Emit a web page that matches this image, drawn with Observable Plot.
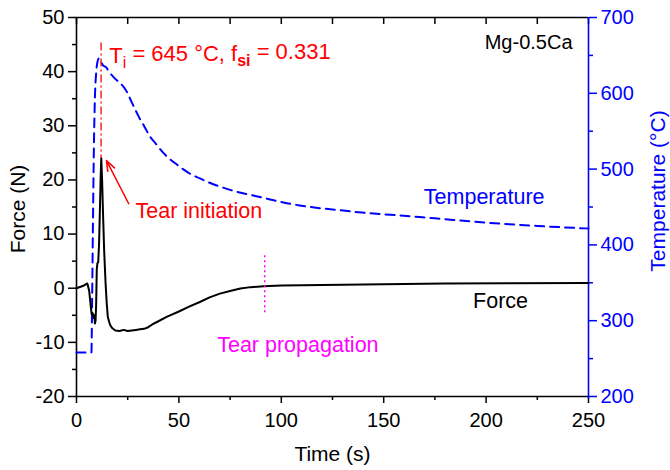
<!DOCTYPE html>
<html>
<head>
<meta charset="utf-8">
<script src="https://cdn.jsdelivr.net/npm/d3@7"></script>
<script src="https://cdn.jsdelivr.net/npm/@observablehq/plot@0.6"></script>
<style>
  body { margin: 0; background: #fff; }
  #chart svg { display: block; }
</style>
</head>
<body>
<div id="chart"></div>
<script>
// Force record (N) versus time (s)
const forceTime = [0, 3, 5.3, 6.2, 7.0, 7.4, 7.9, 8.3, 8.7, 9.0, 9.3, 9.6, 9.9, 10.2, 10.6, 11.0, 11.4, 11.8, 12.1, 12.5, 13.0, 13.5, 14.2, 14.8, 15.3, 16.0, 16.6, 17.5, 19.0, 21, 23, 25, 27, 29, 31, 33, 35, 37, 40, 44, 50, 55, 60.5, 65, 70, 75, 80, 85, 91.5, 100, 110, 130, 150, 180, 210, 250];
const force     = [0, 0.4, 0.87, -0.5, -3.5, -4.8, -4.6, -5.5, -5.0, -6.5, -6.0, -3.0, 3.5, 4.6, 4.8, 8.0, 14.0, 20.5, 24.0, 20.0, 13.2, 7.0, 0.9, -3.0, -5.3, -6.3, -6.9, -7.4, -7.8, -7.9, -7.7, -7.9, -7.8, -7.7, -7.6, -7.5, -7.2, -6.7, -6.1, -5.3, -4.3, -3.4, -2.5, -1.7, -1.0, -0.5, -0.05, 0.2, 0.37, 0.5, 0.55, 0.65, 0.72, 0.85, 0.92, 0.98];

// Thermocouple record (°C) versus time (s)
const tempTime    = [0, 7.3, 7.6, 8.0, 8.5, 9.0, 9.6, 10.2, 10.9, 12.0, 13.3, 14.2, 16, 18.2, 20.6, 22.5, 24.8, 27, 29.7, 31.2, 33, 36.1, 38.6, 40, 44, 48, 52, 56, 60, 65, 70, 77, 85, 93, 101, 109, 117, 126, 142, 157, 175, 202, 225, 250];
const temperature = [258, 258, 320, 420, 530, 595, 627, 641, 646, 641, 636, 635, 628, 621, 615, 610, 601, 588, 573, 565, 557, 542, 534, 529, 517, 508, 500, 493, 488, 482, 477, 471, 466, 461, 456, 452, 449, 446.5, 442, 439, 435, 429, 425, 421.6];

// Axis ticks
const timeTicks = [0, 50, 100, 150, 200, 250];
const timeMinor = [25, 75, 125, 175, 225];
const timeTop = [0, 25, 50, 75, 100, 125, 150, 175, 200, 225, 250];
const forceTicks = [-20, -10, 0, 10, 20, 30, 40, 50];
const forceMinor = [-15, -5, 5, 15, 25, 35, 45];
const tempTicks = [200, 300, 400, 500, 600, 700];
const tempMinor = [250, 350, 450, 550, 650];

// Annotation values
const initiationTime = 12;          // s, force peak
const initiationForce = 24;         // N
const initiationLineTop = 45.3;     // N
const propagationTime = 91.9;       // s
const propagationSpan = [6, -5];    // N
const arrowFrom = [25.5, 15.6];     // [s, N]
const arrowTo = [14.6, 23.6];       // [s, N]

// Temperature axis (200–700 °C) shares the frame with the force axis (−20–50 N)
const tempToForce = (t) => -20 + (t - 200) * 70 / 500;
const forceToTemp = (f) => String(Math.round(200 + (f + 20) * 500 / 70));
const plain = (d) => String(d);   // hyphen-minus, as in the printed figure

const BLUE = "#0000ff", RED = "#ff0000", MAGENTA = "#ff00ff";
const FONT = "'Liberation Sans', Arial, Helvetica, sans-serif";

const forceData = forceTime.map((t, i) => ({t, f: force[i]}));
const tempData = tempTime.map((t, i) => ({t, T: temperature[i]}));

const chart = Plot.plot({
  width: 670,
  height: 470,
  marginLeft: 76,
  marginRight: 82,
  marginTop: 17,
  marginBottom: 74,
  x: {domain: [0, 250]},
  y: {domain: [-20, 50]},
  style: {fontFamily: FONT, fontSize: "20px", color: "black", background: "white"},
  marks: [
    // bottom axis
    Plot.axisX(timeTicks, {anchor: "bottom", tickSize: 7, tickPadding: 9, fontSize: 20, tickFormat: plain, label: null, strokeWidth: 1.5}),
    Plot.axisX(timeMinor, {anchor: "bottom", tickSize: 4, tickFormat: () => "", label: null, strokeWidth: 1.5}),
    // top ticks pointing inward
    Plot.axisX(timeTop, {anchor: "top", tickSize: -6, tickFormat: () => "", label: null, strokeWidth: 1.5}),
    // left force axis
    Plot.axisY(forceTicks, {anchor: "left", tickSize: 8, tickPadding: 4, fontSize: 20, tickFormat: plain, label: null, strokeWidth: 1.5}),
    Plot.axisY(forceMinor, {anchor: "left", tickSize: 4, tickFormat: () => "", label: null, strokeWidth: 1.5}),
    // right temperature axis
    Plot.axisY(tempTicks.map(tempToForce), {anchor: "right", tickSize: 8, tickPadding: 4, fontSize: 20, label: null,
      tickFormat: forceToTemp, color: BLUE, strokeWidth: 1.5}),
    Plot.axisY(tempMinor.map(tempToForce), {anchor: "right", tickSize: 4, tickFormat: () => "", label: null,
      color: BLUE, strokeWidth: 1.5}),
    // frame
    Plot.ruleY([-20], {stroke: "black", strokeWidth: 1.6}),
    Plot.ruleY([50], {stroke: "black", strokeWidth: 1.6}),
    Plot.ruleX([0], {stroke: "black", strokeWidth: 1.6}),
    Plot.ruleX([250], {stroke: BLUE, strokeWidth: 1.6, y1: -20.4, y2: 50}),
    // axis titles
    Plot.text(["Time (s)"], {frameAnchor: "bottom", dy: 58, lineAnchor: "middle", textAnchor: "middle", fontSize: 21, fill: "black"}),
    Plot.text(["Force (N)"], {frameAnchor: "left", dx: -58, dy: 2, rotate: -90, lineAnchor: "middle", textAnchor: "middle", fontSize: 21, fill: "black"}),
    Plot.text(["Temperature (°C)"], {frameAnchor: "right", dx: 70, dy: -16, rotate: -90, lineAnchor: "middle", textAnchor: "middle", fontSize: 21, fill: BLUE}),
    // data
    Plot.line(tempData, {x: "t", y: (d) => tempToForce(d.T), stroke: BLUE, strokeWidth: 2, strokeDasharray: "9,6", curve: "monotone-x"}),
    Plot.line(forceData, {x: "t", y: "f", stroke: "black", strokeWidth: 2}),
    // tear initiation marker
    Plot.ruleX([initiationTime], {y1: initiationLineTop, y2: initiationForce, stroke: RED, strokeWidth: 1.3, strokeDasharray: "8,3,2,3"}),
    Plot.arrow([{x1: arrowFrom[0], y1: arrowFrom[1], x2: arrowTo[0], y2: arrowTo[1]}],
      {x1: "x1", y1: "y1", x2: "x2", y2: "y2", stroke: RED, strokeWidth: 1.5, headLength: 11, headAngle: 40}),
    // tear propagation marker
    Plot.ruleX([propagationTime], {y1: propagationSpan[0], y2: propagationSpan[1], stroke: MAGENTA, strokeWidth: 1.5, strokeDasharray: "2,3"}),
    // labels
    Plot.text(["Ti = 645 °C, fsi = 0.331"], {x: 16, y: 42.9, textAnchor: "start", fontSize: 22, fill: RED}),
    Plot.text(["Mg-0.5Ca"], {x: 242.2, y: 45.45, textAnchor: "end", fontSize: 20, fill: "black"}),
    Plot.text(["Tear initiation"], {x: 28.8, y: 14.15, textAnchor: "start", fontSize: 21.5, fill: RED}),
    Plot.text(["Temperature"], {x: 169.6, y: 16.9, textAnchor: "start", fontSize: 21.5, fill: BLUE}),
    Plot.text(["Force"], {x: 220.5, y: -2.3, textAnchor: "end", fontSize: 21.5, fill: "black"}),
    Plot.text(["Tear propagation"], {x: 68.7, y: -10.5, textAnchor: "start", fontSize: 21.5, fill: MAGENTA})
  ]
});

document.getElementById("chart").appendChild(chart);

// Subscripts in the initiation label: T_i and f_si
d3.select(chart).selectAll("text").each(function () {
  const el = d3.select(this);
  if (el.text() !== "Ti = 645 °C, fsi = 0.331") return;
  el.text(null);
  el.append("tspan").text("T");
  el.append("tspan").attr("dy", "0.3em").attr("font-size", "16px").text("i");
  el.append("tspan").attr("dy", "-0.3em").text(" = 645 °C, f");
  el.append("tspan").attr("dy", "0.3em").attr("font-size", "16px").attr("font-weight", "bold").text("si");
  el.append("tspan").attr("dy", "-0.3em").text(" = 0.331");
});
</script>
</body>
</html>
